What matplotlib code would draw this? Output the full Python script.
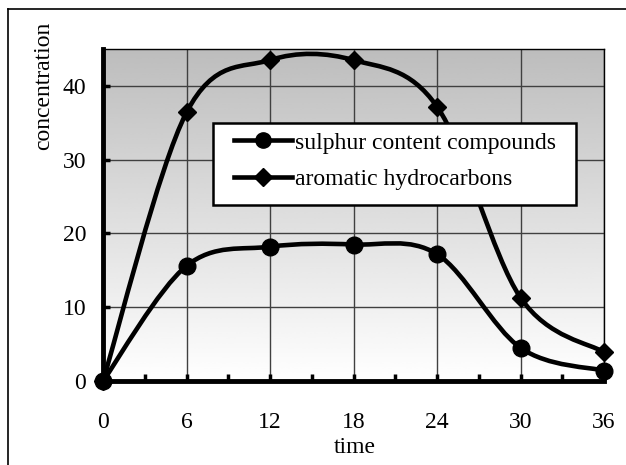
import numpy as np
import matplotlib
matplotlib.use("Agg")
import matplotlib.pyplot as plt
from matplotlib.path import Path
from matplotlib.patches import PathPatch, Rectangle
from matplotlib.lines import Line2D

# 数据
time = [0, 6, 12, 18, 24, 30, 36]
sulphur = [0, 15.6, 18.2, 18.5, 17.2, 4.5, 1.4]
aromatic = [0, 36.4, 43.5, 43.5, 37.2, 11.3, 3.9]
labels = ["sulphur content compounds", "aromatic hydrocarbons"]

plt.rcParams['font.family'] = ['Liberation Serif', 'DejaVu Serif']


# Excel风格平滑曲线 (Bezier 控制点)
def smooth_path(x, y):
    pts = np.column_stack([x, y]).astype(float)
    n = len(pts)
    verts = [pts[0]]
    codes = [Path.MOVETO]
    for i in range(n - 1):
        p0 = pts[i - 1] if i > 0 else pts[i]
        p1 = pts[i]
        p2 = pts[i + 1]
        p3 = pts[i + 2] if i + 2 < n else pts[i + 1]
        c1 = p1 + (p2 - p0) / 6.0
        c2 = p2 - (p3 - p1) / 6.0
        verts += [c1, c2, p2]
        codes += [Path.CURVE4] * 3
    return Path(verts, codes)


fig = plt.figure(figsize=(6.26, 4.65), dpi=100)
ax = fig.add_axes([103 / 626, 1 - 381 / 465, 501 / 626, 332 / 465])

# 背景渐变 (上灰下白)
grad = np.linspace(0.74, 1.0, 256).reshape(-1, 1)
ax.imshow(grad, cmap='gray', vmin=0, vmax=1, extent=[0, 36, 0, 45],
          origin='upper', aspect='auto', zorder=0, interpolation='bicubic')
ax.set_xlim(0, 36)
ax.set_ylim(0, 45)

ax.set_xticks(range(0, 37, 6))
ax.set_xticks(range(0, 37, 3), minor=True)
ax.set_yticks(range(0, 41, 10))
ax.grid(True, which='major', color='#404040', linewidth=1.0, zorder=1)

for yv, mk in [(sulphur, 'o'), (aromatic, 'D')]:
    ax.add_patch(PathPatch(smooth_path(time, yv), facecolor='none',
                           edgecolor='black', linewidth=3.3, zorder=3,
                           clip_on=False))
    ax.plot(time, yv, linestyle='none', marker=mk, color='black',
            markersize=12 if mk == 'o' else 9.5, zorder=4, clip_on=False)

# 图例 (白底黑框)
ax.add_patch(Rectangle((110 / 501, 176 / 332), 363 / 501, 82 / 332,
                       transform=ax.transAxes, facecolor='white',
                       edgecolor='black', linewidth=1.8, zorder=5))
handles = [Line2D([], [], color='black', lw=3.3, marker='o', markersize=11),
           Line2D([], [], color='black', lw=3.3, marker='D', markersize=9)]
leg = ax.legend(handles, labels, loc='center left',
                bbox_to_anchor=(131 / 501, (381 - 161) / 332), fontsize=17,
                frameon=False, handlelength=2.45, handletextpad=0.15,
                borderpad=0, labelspacing=0.63, borderaxespad=0)
leg.set_zorder(6)

ax.spines['left'].set_linewidth(3.5)
ax.spines['bottom'].set_linewidth(3.5)
ax.spines['top'].set_linewidth(1.0)
ax.spines['right'].set_linewidth(1.0)

ax.tick_params(axis='both', which='major', direction='in', length=5,
               width=2.5, labelsize=17)
ax.tick_params(axis='x', which='major', pad=22)
ax.tick_params(axis='y', which='major', pad=12)
ax.tick_params(axis='x', which='minor', direction='in', length=5, width=2.5)

fig.text(44 / 626, 1 - 86 / 465, 'concentration', rotation=90,
         ha='center', va='center', fontsize=17)
fig.text(355 / 626, 1 - 447 / 465, 'time', ha='center', va='center',
         fontsize=17)

# 外框
fig.add_artist(Line2D([8 / 626, 1.0], [1 - 9 / 465, 1 - 9 / 465],
                      color='black', lw=1.2, transform=fig.transFigure))
fig.add_artist(Line2D([8 / 626, 8 / 626], [0.0, 1 - 9 / 465],
                      color='black', lw=1.2, transform=fig.transFigure))

fig.savefig('out.png', dpi=100)
